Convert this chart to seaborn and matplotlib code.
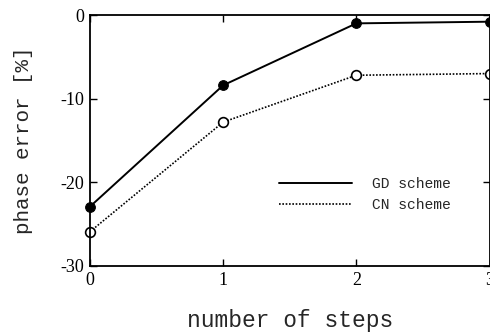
import matplotlib
matplotlib.use("Agg")
import matplotlib.pyplot as plt
import seaborn as sns
import pandas as pd

steps = [0, 1, 2, 3]
gd_error = [-22.9, -8.4, -1.0, -0.8]
cn_error = [-25.9, -12.8, -7.2, -7.0]
x_ticks = [0, 1, 2, 3]
y_ticks = [0, -10, -20, -30]

sns.set_theme(style="ticks")
plt.rcParams['font.family'] = ['Liberation Serif', 'DejaVu Serif']

df = pd.DataFrame({"steps": steps * 2,
                   "error": gd_error + cn_error,
                   "scheme": ["GD scheme"] * 4 + ["CN scheme"] * 4})

fig = plt.figure(figsize=(4.9, 3.34), dpi=100)
ax = fig.add_axes([90/490, 1-266/334, 399.5/490, 251/334])

gd = df[df.scheme == "GD scheme"]
cn = df[df.scheme == "CN scheme"]
sns.lineplot(data=gd, x="steps", y="error", ax=ax, color="black", lw=1.4,
             linestyle="-", marker="o", markersize=7, markerfacecolor="black",
             markeredgecolor="black", label="GD scheme", clip_on=False)
sns.lineplot(data=cn, x="steps", y="error", ax=ax, color="black", lw=1.2,
             linestyle=(0, (1, 1)), marker="o", markersize=7, markerfacecolor="white",
             markeredgecolor="black", markeredgewidth=1.2, label="CN scheme", clip_on=False)

ax.set_xlim(0, 3)
ax.set_ylim(-30, 0)
ax.set_xticks(x_ticks)
ax.set_yticks(y_ticks)
ax.set_xticklabels([str(t) for t in x_ticks])
ax.set_yticklabels([str(t) for t in y_ticks])
ax.tick_params(direction="in", length=5, width=1, colors="black", labelsize=13,
               top=True, right=True, pad=4)
for s in ax.spines.values():
    s.set_color("black")
    s.set_linewidth(1.3)

ax.set_xlabel("number of steps", family=["Liberation Mono"], fontsize=16.5, labelpad=15)
ax.set_ylabel("phase error [%]", family=["Liberation Mono"], fontsize=15, labelpad=20)

leg = ax.legend(loc="lower right", bbox_to_anchor=(0.937, 0.163), frameon=False,
                prop={"family": "Liberation Mono", "size": 10.5},
                handlelength=5.0, handletextpad=1.4, labelspacing=0.45)
for h in leg.legend_handles:
    h.set_marker("")

fig.savefig("out.png", dpi=100)
